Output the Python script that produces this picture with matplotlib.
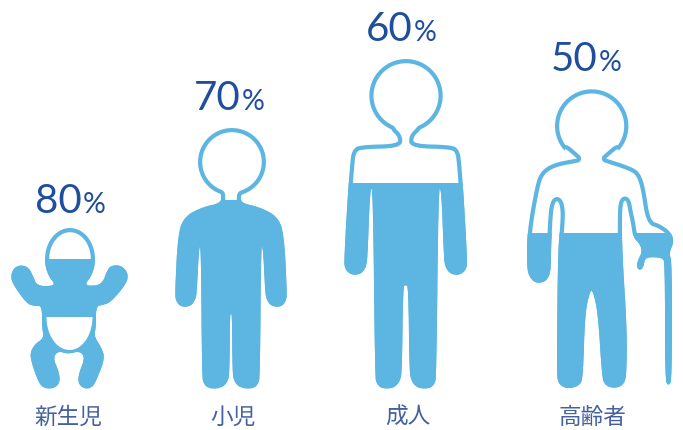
#!/usr/local/bin/python
# body water share by age group, drawn as filled silhouettes

import numpy as np
import matplotlib
matplotlib.use('Agg')
import matplotlib.pyplot as plt
from matplotlib.patches import Polygon

categories = ['新生児', '小児', '成人', '高齢者']
percents = [80, 70, 60, 50]

# height of the 100% scale for each figure, in canvas units, and its base line
scale_height = [160, 267, 342, 310]
scale_base = [387, 387, 388, 388]

fill_color = '#5CB6E1'
number_color = '#1F4F9C'
label_color = '#44609E'
edge_px = 4.2

# outlines: neck, shoulder, arm, trunk and leg, head arc added later
baby_body = [(53, 286), (37, 286), (33, 276), (29, 268), (22, 265), (15, 267), (11, 274), (12, 283),
             (27, 304), (35, 306), (42, 306), (42, 327), (44, 338), (35, 344), (30, 353), (32, 364), (37, 378),
             (41, 386), (47, 389), (55, 388), (60, 382), (59, 372), (53, 358), (58, 351), (68, 354), (80, 351),
             (85, 358), (79, 373), (78, 383), (84, 389), (92, 388), (97, 379), (105, 358), (101, 347), (94, 336),
             (96, 327), (96, 306), (103, 305), (111, 302), (127, 283), (128, 273), (122, 266), (114, 265),
             (108, 268), (102, 285), (87, 286)]
baby_head = (70, 259, 25, 31, 0.70)

child_half = [(221, 195), (221, 203), (203, 207), (185, 216), (178, 233), (175, 293), (176, 301), (180, 306),
              (186, 307), (192, 305), (196, 298), (197, 288), (199, 247), (201, 247), (202, 377), (204, 384),
              (208, 388), (215, 389), (223, 387), (228, 381), (229.5, 372), (230, 315), (231, 314)]
child_axis = 231
child_head = (232, 162, 34, 34, 0.34)

adult_half = [(392, 131), (398, 137), (398, 144), (360, 145), (353, 149), (350, 160), (344, 260), (345, 269),
              (350, 274), (356, 275), (362, 273), (366, 267), (367.5, 258), (370, 189), (373, 189), (375, 377),
              (377, 384), (381, 388), (388, 389), (395, 387), (400, 381), (402, 371), (403, 287), (405.7, 285)]
adult_axis = 405.7
adult_head = (406, 95.7, 36.7, 36.7, 0.40)

elder_body = [(565, 148), (577, 158.5), (577, 158.5), (553, 163), (540, 172), (535, 187), (527, 233), (527, 267),
              (529, 276), (534, 282), (540, 283), (546, 281), (550, 274), (551, 263), (551, 250), (552.5, 217),
              (554, 205), (557, 200), (560, 205), (561, 217), (558, 250), (557, 347), (557, 377), (559, 384),
              (565, 388), (572, 388), (580, 385), (583, 377), (585, 313), (590, 291), (593, 291), (598, 313),
              (602, 377), (605, 385), (612, 388), (620, 387), (625, 382), (626.5, 372), (627, 330), (622, 250),
              (622, 212), (623, 203), (625, 200), (627, 203), (628.5, 212), (631, 223), (633, 237), (640.7, 245),
              (641.7, 253), (638, 260), (636.5, 267), (640, 270.5), (643.5, 267), (645, 258), (653, 257), (662, 258),
              (665, 262), (665, 380), (668.5, 386), (672, 380), (672, 262), (669, 253), (674, 242), (671, 232),
              (660, 224), (650, 221), (645, 187), (640, 173), (632, 167), (606, 158.5), (606, 158.5), (618, 148)]
elder_head = (591.7, 126, 36.7, 36.7, 0.82)

# white nappy on the baby
diaper = (69.5, 317, 23, 33)

number_x = [82, 241, 412.5, 597.5]
number_base = [213, 110, 41, 71]
label_x = [68, 233, 408, 592]
label_y = [417, 417, 417, 417]


def head_arc(cx, cy, rx, ry, gap):
    t = np.linspace(gap, 2 * np.pi - gap, 60)
    return list(zip(cx + rx * np.sin(t), cy + ry * np.cos(t)))


def mirror(half, axis):
    return [(2 * axis - x, y) for x, y in reversed(half)]


def smooth(points, n=2):
    # corner cutting so that the outlines come out rounded
    pts = np.array(points, float)
    for i in range(n):
        nxt = np.roll(pts, -1, axis=0)
        pts = np.column_stack([0.75 * pts + 0.25 * nxt, 0.25 * pts + 0.75 * nxt]).reshape(-1, 2)
    return pts


outlines = [
    baby_body + head_arc(*baby_head),
    child_half + mirror(child_half, child_axis) + head_arc(*child_head),
    adult_half + mirror(adult_half, adult_axis) + head_arc(*adult_head),
    elder_body + head_arc(*elder_head),
]

fig = plt.figure(figsize=(6.83, 4.30), dpi=100)
ax = fig.add_axes([0, 0, 1, 1])
ax.set_xlim(0, 683)
ax.set_ylim(430, 0)
ax.axis('off')

for i in range(len(categories)):
    pts = smooth(outlines[i])
    shape = Polygon(pts, closed=True, fc='white', ec='none', zorder=2)
    ax.add_patch(shape)

    # the level comes from the percentage, cut to the silhouette
    xmid = pts[:, 0].mean()
    bars = ax.bar(xmid, -percents[i] / 100 * scale_height[i], bottom=scale_base[i], width=200,
                  color=fill_color, linewidth=0, zorder=3)
    bars[0].set_clip_path(shape)

    # doubled width, the outer half falls outside the clip
    edge = Polygon(pts, closed=True, fc='none', ec=fill_color, lw=2 * edge_px * 0.72,
                   joinstyle='round', zorder=4)
    ax.add_patch(edge)
    edge.set_clip_path(shape)

    ax.text(number_x[i], number_base[i], str(percents[i]), ha='right', va='baseline',
            fontsize=29, color=number_color, family='Lato', zorder=5)
    ax.text(number_x[i] + 1, number_base[i], '%', ha='left', va='baseline',
            fontsize=20.5, color=number_color, family='Lato', zorder=5)
    ax.text(label_x[i], label_y[i], categories[i], ha='center', va='center',
            fontsize=16.3, color=label_color, family=['Noto Sans CJK JP', 'DejaVu Sans'], zorder=5)

t = np.linspace(-np.pi / 2, np.pi / 2, 40)
ax.add_patch(Polygon(list(zip(diaper[0] + diaper[2] * np.sin(t), diaper[1] + diaper[3] * np.cos(t))),
                     closed=True, fc='white', ec='none', zorder=6))

fig.savefig('out.png', dpi=100, facecolor='white')
